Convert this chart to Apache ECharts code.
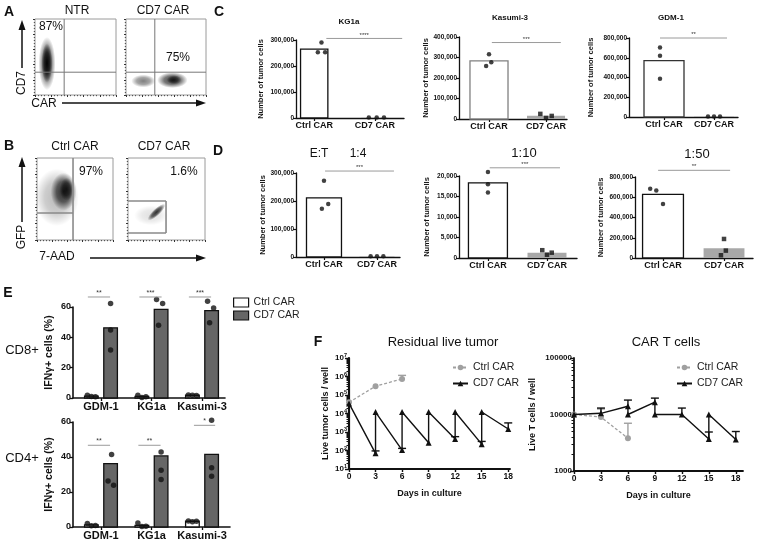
<!DOCTYPE html>
<html><head><meta charset="utf-8">
<script src="https://cdn.jsdelivr.net/npm/echarts@6/dist/echarts.min.js"></script>
<style>html,body{margin:0;padding:0;background:#fff}#c{width:757px;height:544px}</style>
</head><body><div id="c"></div>
<script>
// ================= DATA =================
// Panel A / B flow plots: event clusters [centre X, centre Y, spread X, spread Y, tilt deg, density] (log decades)
const ntrEvents   = [[0.74, 2.07, 0.52, 1.75, 0, 0.7], [0.74, 2.1, 0.33, 1.3, 0, 0.95]];
const a7Events    = [[1.08, 0.92, 0.75, 0.42, 0, 0.5], [2.9, 0.98, 0.95, 0.52, 0, 0.75], [3.0, 1.0, 0.45, 0.3, 0, 0.7]];
const bCtrlEvents = [[1.3, 2.6, 1.45, 1.75, 0, 0.28], [1.75, 2.95, 0.85, 1.15, 0, 0.8], [1.95, 3.1, 0.45, 0.7, 0, 0.7]];
const bCd7Events  = [[1.5, 1.5, 1.1, 0.6, 0, 0.12], [1.85, 1.7, 0.75, 0.22, 43, 0.8]];
const quadNtr  = [1.8, 1.5];
const quadA7   = [1.8, 1.5];
const gateBCtrl = [2.37, 1.65];
const gateBCd7  = [2.47, 0.43, 2.38];

// Panel C / D: tumor cells (bar = mean, dots = replicates)
const barCategories = ['Ctrl CAR', 'CD7 CAR'];
const kg1aMeans = [265000, 1500];
const kg1aCtrl  = [290000, 253000, 253000];
const kg1aCd7   = [1500, 1500, 1500];
const kasumiMeans = [284000, 16000];
const kasumiCtrl  = [316000, 259000, 277000];
const kasumiCd7   = [25000, 5000, 15000];
const gdmMeans = [571000, 4000];
const gdmCtrl  = [705000, 621000, 388000];
const gdmCd7   = [4000, 4000, 4000];
const et4Means = [211000, 2500];
const et4Ctrl  = [272000, 189000, 172000];
const et4Cd7   = [2500, 2500, 2500];
const et10Means = [18300, 1300];
const et10Ctrl  = [21000, 18000, 16000];
const et10Cd7   = [1900, 800, 1300];
const et50Means = [628000, 96000];
const et50Ctrl  = [685000, 666000, 533000];
const et50Cd7   = [188000, 73000, 27000];
const sigC = ['****', '***', '**'];
const sigD = ['***', '***', '**'];

// Panel E: IFN-gamma+ cells (%)
const ifnCategories = ['GDM-1', 'KG1a', 'Kasumi-3'];
const cd8CtrlMeans = [1.3, 1.1, 1.8];
const cd8Cd7Means  = [46.3, 58.4, 57.6];
const cd8CtrlPts = [[1.8, 1.0, 0.9], [1.8, 0.4, 0.9], [2.0, 1.8, 1.7]];
const cd8Cd7Pts  = [[62.3, 44.8, 31.7], [64.9, 62.3, 48.0], [63.8, 59.4, 49.6]];
const cd8Sig = ['**', '***', '***'];
const cd4CtrlMeans = [1.2, 0.9, 3.3];
const cd4Cd7Means  = [36.2, 40.6, 41.5];
const cd4CtrlPts = [[2.0, 0.7, 0.8], [2.3, 0.3, 0.5], [3.5, 3.0, 3.3]];
const cd4Cd7Pts  = [[41.5, 26.3, 23.8], [42.9, 32.4, 27.2], [61.0, 33.9, 29.0]];
const cd4Sig = ['**', '**', '*'];

// Panel F: [day, cells]
const tumorCtrl = [[0, 40000], [3, 300000], [6, 740000]];
const tumorCtrlErr = [[6, 740000, 1150000]];
const tumorCd7 = [[0, 35000], [3, 70], [3, 12000], [6, 105], [6, 12000], [9, 260], [9, 12000], [12, 420], [12, 12000], [15, 220], [15, 12000], [18, 1450]];
const tumorCd7Err = [[3, 70, 95], [6, 105, 130], [12, 420, 560], [15, 220, 310], [18, 1450, 3100]];
const tcellCtrl = [[0, 10000], [3, 9000], [6, 3800]];
const tcellCtrlErr = [[3, 9000, 12500], [6, 3800, 7000]];
const tcellCd7 = [[0, 10000], [3, 10500], [6, 14000], [6, 10000], [9, 16500], [9, 10000], [12, 10000], [15, 3700], [15, 10000], [18, 3600]];
const tcellCd7Err = [[3, 10500, 13000], [6, 14000, 18000], [9, 16500, 19500], [12, 10000, 13000], [15, 3700, 4900], [18, 3600, 5000]];
const dayTicks = [0, 3, 6, 9, 12, 15, 18];

// ================= BUILD =================
const FONT = '"Liberation Sans", Arial, Helvetica, sans-serif';
const chart = echarts.init(document.getElementById('c'), null, {renderer: 'canvas', width: 757, height: 544});
const grids = [], xAxes = [], yAxes = [], series = [], graphics = [];

function txt(x, y, text, size, bold, extra) {
  graphics.push(Object.assign({type: 'text', x: x, y: y, silent: true,
    style: {text: text, fontSize: size, fontWeight: bold ? 'bold' : 'normal', fontFamily: FONT, fill: '#111', align: 'center', verticalAlign: 'middle'}}, extra || {}));
}
function arrow(x1, y1, x2, y2) {
  graphics.push({type: 'line', shape: {x1: x1, y1: y1, x2: x2, y2: y2}, style: {stroke: '#111', lineWidth: 1.5}, silent: true});
  const dx = x2 - x1, dy = y2 - y1, L = Math.hypot(dx, dy), ux = dx / L, uy = dy / L;
  const h = 7, w = 3.5;
  graphics.push({type: 'polygon', shape: {points: [[x2 + ux * 3, y2 + uy * 3], [x2 - ux * h + uy * w, y2 - uy * h - ux * w], [x2 - ux * h - uy * w, y2 - uy * h + ux * w]]}, style: {fill: '#111'}, silent: true});
}
function segRender(color, width) {
  return function (params, api) {
    const a = api.coord([api.value(0), api.value(1)]), b = api.coord([api.value(2), api.value(3)]);
    return {type: 'line', shape: {x1: a[0], y1: a[1], x2: b[0], y2: b[1]}, style: {stroke: color, lineWidth: width}};
  };
}
function sigSeries(gi, rows, labels, fs) {
  series.push({type: 'custom', xAxisIndex: gi, yAxisIndex: gi, silent: true, clip: false, z: 5,
    data: rows,
    renderItem: function (params, api) {
      const a = api.coord([api.value(0), api.value(2)]), b = api.coord([api.value(1), api.value(2)]);
      return {type: 'group', children: [
        {type: 'line', shape: {x1: a[0], y1: a[1], x2: b[0], y2: b[1]}, style: {stroke: '#9a9a9a', lineWidth: 1}},
        {type: 'text', style: {text: labels[params.dataIndex], x: (a[0] + b[0]) / 2, y: a[1] - 0.5, align: 'center', verticalAlign: 'bottom', fontSize: fs, fontFamily: FONT, fill: '#333'}}
      ]};
    }});
}

// ---------- flow panels ----------
function flowPanel(g, events, segs, segColor, segW) {
  const gi = grids.length;
  grids.push({left: g[0], top: g[1], width: g[2], height: g[3], show: true, borderColor: '#9a9a9a', borderWidth: 1, backgroundColor: '#fff', containLabel: false});
  const ax = {gridIndex: gi, type: 'value', min: 0, max: 5, interval: 1,
    axisLine: {show: false}, axisLabel: {show: false}, splitLine: {show: false},
    axisTick: {show: true, length: 2, lineStyle: {color: '#333', width: 1}},
    minorTick: {show: true, splitNumber: 5, length: 1.2, lineStyle: {color: '#555'}}};
  xAxes.push(Object.assign({}, ax));
  yAxes.push(Object.assign({}, ax));
  series.push({type: 'custom', xAxisIndex: gi, yAxisIndex: gi, clip: true, silent: true, data: events,
    renderItem: function (params, api) {
      const c = api.coord([api.value(0), api.value(1)]);
      const s = api.size([api.value(2), api.value(3)]);
      const d = api.value(5);
      return {type: 'circle', x: c[0], y: c[1], scaleX: s[0], scaleY: s[1], rotation: api.value(4) * Math.PI / 180,
        shape: {cx: 0, cy: 0, r: 1},
        style: {fill: new echarts.graphic.RadialGradient(0.5, 0.5, 0.5, [
          {offset: 0, color: 'rgba(0,0,0,' + d + ')'},
          {offset: 0.55, color: 'rgba(0,0,0,' + (d * 0.7) + ')'},
          {offset: 1, color: 'rgba(0,0,0,0)'}])}};
    }});
  series.push({type: 'custom', xAxisIndex: gi, yAxisIndex: gi, clip: true, silent: true, z: 4, data: segs, renderItem: segRender(segColor, segW)});
}
flowPanel([35, 19, 81, 76], ntrEvents, [[quadNtr[0], 0, quadNtr[0], 5], [0, quadNtr[1], 5, quadNtr[1]]], '#777', 1);
flowPanel([126, 19, 80, 76], a7Events, [[quadA7[0], 0, quadA7[0], 5], [0, quadA7[1], 5, quadA7[1]]], '#777', 1);
flowPanel([37, 158, 76, 82], bCtrlEvents, [[gateBCtrl[0], 0, gateBCtrl[0], 5], [0, gateBCtrl[1], gateBCtrl[0], gateBCtrl[1]]], '#8a8a8a', 1.6);
flowPanel([128, 158, 77, 82], bCd7Events, [[0, gateBCd7[2], gateBCd7[0], gateBCd7[2]], [gateBCd7[0], gateBCd7[1], gateBCd7[0], gateBCd7[2]], [0, gateBCd7[1], gateBCd7[0], gateBCd7[1]]], '#8a8a8a', 1.6);

// ---------- C / D bar panels ----------
function fmtThousands(v) { return Math.round(v).toString().replace(/\B(?=(\d{3})+(?!\d))/g, ','); }
function barPanel(p) {
  const gi = grids.length;
  grids.push({left: p.g[0], top: p.g[1], width: p.g[2], height: p.g[3], containLabel: false});
  xAxes.push({gridIndex: gi, type: 'value', min: p.x[0], max: p.x[1],
    axisLine: {show: true, onZero: false, lineStyle: {color: '#111', width: 1.4}},
    axisTick: {show: true, customValues: [0, 1], length: 3, lineStyle: {color: '#111', width: 1.2}},
    axisLabel: {show: true, customValues: [0, 1], formatter: function (v) { return barCategories[Math.round(v)]; }, fontFamily: FONT, fontWeight: 'bold', fontSize: 9, color: '#111', margin: 3},
    splitLine: {show: false}});
  yAxes.push({gridIndex: gi, type: 'value', min: 0, max: p.yMax, interval: p.yInt,
    axisLine: {show: true, onZero: false, lineStyle: {color: '#111', width: 1.3}},
    axisTick: {show: true, length: 3, lineStyle: {color: '#111', width: 1.2}},
    axisLabel: {formatter: fmtThousands, fontFamily: FONT, fontWeight: 'bold', fontSize: 6.5, color: '#111', margin: 2},
    splitLine: {show: false},
    name: 'Number of tumor cells', nameLocation: 'middle', nameRotate: 90, nameGap: p.nameGap,
    nameTextStyle: {fontFamily: FONT, fontWeight: 'bold', fontSize: 7.5, color: '#111'}});
  const bw = p.bw, stroke = p.stroke;
  series.push({type: 'custom', xAxisIndex: gi, yAxisIndex: gi, silent: true, z: 2,
    data: p.means.map(function (v, i) { return [i, v]; }),
    renderItem: function (params, api) {
      const i = api.value(0), v = api.value(1);
      const a = api.coord([i - bw / 2, v]), b = api.coord([i + bw / 2, 0]);
      const st = i === 0 ? {fill: '#fff', stroke: stroke, lineWidth: 1.3} : {fill: '#a8a8a8', lineWidth: 0};
      return {type: 'rect', shape: {x: a[0], y: a[1], width: b[0] - a[0], height: b[1] - a[1]}, style: st};
    }});
  series.push({type: 'scatter', xAxisIndex: gi, yAxisIndex: gi, silent: true, clip: false, z: 3, symbol: 'circle', symbolSize: 4.5,
    itemStyle: {color: '#111'}, data: p.ctrl.map(function (v, k) { return [p.jit[0][k], v]; })});
  series.push({type: 'scatter', xAxisIndex: gi, yAxisIndex: gi, silent: true, clip: false, z: 3, symbol: p.cd7Sym, symbolSize: 4.5,
    itemStyle: {color: '#111'}, data: p.cd7.map(function (v, k) { return [1 + p.jit[1][k], v]; })});
  sigSeries(gi, [[p.sig[0], p.sig[1], p.sig[2]]], [p.sigLabel], 6);
}
barPanel({g: [296, 40, 108, 78], x: [-0.3, 1.48], yMax: 300000, yInt: 100000, nameGap: 31, bw: 0.45, stroke: '#111',
  means: kg1aMeans, ctrl: kg1aCtrl, cd7: kg1aCd7, jit: [[0.12, 0.06, 0.18], [-0.1, 0.03, 0.15]], cd7Sym: 'circle', sig: [0.2, 1.45, 306000], sigLabel: sigC[0]});
barPanel({g: [459, 37, 108, 82], x: [-0.526, 1.368], yMax: 400000, yInt: 100000, nameGap: 28, bw: 0.667, stroke: '#808080',
  means: kasumiMeans, ctrl: kasumiCtrl, cd7: kasumiCd7, jit: [[0.0, -0.05, 0.04], [-0.1, 0, 0.1]], cd7Sym: 'rect', sig: [0.05, 1.26, 373000], sigLabel: sigC[1]});
barPanel({g: [629, 38, 109, 79], x: [-0.7, 1.48], yMax: 800000, yInt: 200000, nameGap: 34, bw: 0.8, stroke: '#333',
  means: gdmMeans, ctrl: gdmCtrl, cd7: gdmCd7, jit: [[-0.08, -0.08, -0.08], [-0.12, 0, 0.12]], cd7Sym: 'circle', sig: [-0.08, 1.26, 800000], sigLabel: sigC[2]});
barPanel({g: [296, 173, 104, 84], x: [-0.528, 1.434], yMax: 300000, yInt: 100000, nameGap: 28, bw: 0.66, stroke: '#111',
  means: et4Means, ctrl: et4Ctrl, cd7: et4Cd7, jit: [[0.0, 0.08, -0.04], [-0.12, 0, 0.12]], cd7Sym: 'circle', sig: [0.02, 1.32, 307000], sigLabel: sigD[0]});
barPanel({g: [459, 176, 118, 82], x: [-0.49, 1.508], yMax: 20000, yInt: 5000, nameGap: 28, bw: 0.66, stroke: '#111',
  means: et10Means, ctrl: et10Ctrl, cd7: et10Cd7, jit: [[0, 0, 0], [-0.08, 0, 0.08]], cd7Sym: 'rect', sig: [0.03, 1.22, 22000], sigLabel: sigD[1]});
barPanel({g: [635, 177, 118, 81], x: [-0.459, 1.475], yMax: 800000, yInt: 200000, nameGap: 30, bw: 0.67, stroke: '#111',
  means: et50Means, ctrl: et50Ctrl, cd7: et50Cd7, jit: [[-0.21, -0.11, 0.0], [0, 0.03, -0.05]], cd7Sym: 'rect', sig: [-0.08, 1.1, 866000], sigLabel: sigD[2]});

// ---------- E panels ----------
function ifnPanel(p) {
  const gi = grids.length;
  grids.push({left: p.g[0], top: p.g[1], width: p.g[2], height: p.g[3], containLabel: false});
  xAxes.push({gridIndex: gi, type: 'value', min: p.x[0], max: p.x[1],
    axisLine: {show: true, onZero: false, lineStyle: {color: '#111', width: 1.6}},
    axisTick: {show: true, customValues: [0, 1, 2], length: 3, lineStyle: {color: '#111', width: 1.3}},
    axisLabel: {show: true, customValues: [0, 1, 2], formatter: function (v) { return ifnCategories[Math.round(v)]; }, fontFamily: FONT, fontWeight: 'bold', fontSize: 11, color: '#111', margin: 3},
    splitLine: {show: false}});
  yAxes.push({gridIndex: gi, type: 'value', min: 0, max: 60, interval: 20,
    axisLine: {show: true, onZero: false, lineStyle: {color: '#111', width: 1.6}},
    axisTick: {show: true, length: 3, lineStyle: {color: '#111', width: 1.3}},
    axisLabel: {fontFamily: FONT, fontWeight: 'bold', fontSize: 9, color: '#111', margin: 2},
    splitLine: {show: false},
    name: 'IFNγ+ cells (%)', nameLocation: 'middle', nameRotate: 90, nameGap: 18,
    nameTextStyle: {fontFamily: FONT, fontWeight: 'bold', fontSize: 10.5, color: '#111'}});
  const off = 0.19, bw = 0.27;
  function bars(name, means, sign, fill) {
    series.push({type: 'custom', name: name, xAxisIndex: gi, yAxisIndex: gi, silent: true, z: 2,
      itemStyle: {color: fill, borderColor: '#111', borderWidth: 1.2},
      data: means.map(function (v, i) { return [i + sign * off, v]; }),
      renderItem: function (params, api) {
        const x = api.value(0), v = api.value(1);
        const a = api.coord([x - bw / 2, v]), b = api.coord([x + bw / 2, 0]);
        return {type: 'rect', shape: {x: a[0], y: a[1], width: b[0] - a[0], height: b[1] - a[1]}, style: {fill: fill, stroke: '#111', lineWidth: 1.3}};
      }});
  }
  bars('E Ctrl CAR', p.ctrlMeans, -1, '#ffffff');
  bars('E CD7 CAR', p.cd7Means, 1, '#666666');
  const pts = [];
  p.ctrlPts.forEach(function (arr, i) { arr.forEach(function (v, k) { pts.push([i - off + p.jc[k], v]); }); });
  p.cd7Pts.forEach(function (arr, i) { arr.forEach(function (v, k) { pts.push([i + off + p.jt[i][k], v]); }); });
  series.push({type: 'scatter', xAxisIndex: gi, yAxisIndex: gi, silent: true, clip: false, z: 3, symbolSize: 5.5, itemStyle: {color: '#111'}, data: pts});
  sigSeries(gi, p.sig.map(function (r, i) { return [i + r[0], i + r[1], r[2]]; }), p.sigLabels, 7);
}
ifnPanel({g: [73, 307, 152, 91], x: [-0.554, 2.455], ctrlMeans: cd8CtrlMeans, cd7Means: cd8Cd7Means, ctrlPts: cd8CtrlPts, cd7Pts: cd8Cd7Pts,
  jc: [-0.08, 0, 0.08], jt: [[0, 0, 0], [-0.09, 0.03, -0.05], [-0.08, 0.04, -0.04]],
  sig: [[-0.26, 0.18, 66.6], [-0.24, 0.2, 66.6], [-0.26, 0.18, 66.6]], sigLabels: cd8Sig});
ifnPanel({g: [73, 422, 157, 105], x: [-0.554, 2.554], ctrlMeans: cd4CtrlMeans, cd7Means: cd4Cd7Means, ctrlPts: cd4CtrlPts, cd7Pts: cd4Cd7Pts,
  jc: [-0.08, 0, 0.08], jt: [[0.02, -0.05, 0.06], [0, 0, 0], [0, 0, 0]],
  sig: [[-0.26, 0.18, 46.7], [-0.26, 0.18, 46.7], [-0.16, 0.26, 58.1]], sigLabels: cd4Sig});

// ---------- F panels ----------
function minorLog(lo, hi) {
  const out = [];
  for (let e = lo; e < hi; e++) for (let m = 2; m <= 9; m++) out.push(m * Math.pow(10, e));
  return out;
}
function majorLog(lo, hi) { const out = []; for (let e = lo; e <= hi; e++) out.push(Math.pow(10, e)); return out; }
function timePanel(p) {
  const gi = grids.length;
  grids.push({left: p.g[0], top: p.g[1], width: p.g[2], height: p.g[3], containLabel: false});
  xAxes.push({gridIndex: gi, type: 'value', min: 0, max: p.xMax,
    axisLine: {show: true, onZero: false, lineStyle: {color: '#111', width: 1.8}},
    axisTick: {show: true, customValues: dayTicks, length: 3, lineStyle: {color: '#111', width: 1.4}},
    axisLabel: {customValues: dayTicks, fontFamily: FONT, fontWeight: 'bold', fontSize: 8.5, color: '#111', margin: 3},
    splitLine: {show: false},
    name: 'Days in culture', nameLocation: 'middle', nameGap: 20,
    nameTextStyle: {fontFamily: FONT, fontWeight: 'bold', fontSize: 9, color: '#111'}});
  const yi = yAxes.length;
  yAxes.push({gridIndex: gi, type: 'log', logBase: 10, min: p.yMin, max: p.yMax, position: 'left',
    axisLine: {show: true, onZero: false, lineStyle: {color: '#111', width: p.axW}},
    axisTick: {show: true, customValues: p.major, length: 4, lineStyle: {color: '#111', width: 1.4}},
    axisLabel: {customValues: p.major, formatter: p.fmt, fontFamily: FONT, fontWeight: 'bold', fontSize: 8, color: '#111', margin: 2,
      rich: {s: {fontSize: 5.5, fontWeight: 'bold', fontFamily: FONT, verticalAlign: 'top', padding: [0, 0, 5, 0], color: '#111'}}},
    splitLine: {show: false},
    name: p.yName, nameLocation: 'middle', nameRotate: 90, nameGap: p.nameGap,
    nameTextStyle: {fontFamily: FONT, fontWeight: 'bold', fontSize: 9, color: '#111'}});
  yAxes.push({gridIndex: gi, type: 'log', logBase: 10, min: p.yMin, max: p.yMax, position: 'left', offset: 0,
    axisLine: {show: false}, axisLabel: {show: false}, splitLine: {show: false},
    axisTick: {show: true, customValues: p.minor, length: 2.5, lineStyle: {color: '#111', width: 1}}});
  series.push({type: 'line', name: 'Ctrl CAR', xAxisIndex: gi, yAxisIndex: yi, data: p.ctrl, silent: true, clip: false, z: 3,
    symbol: 'circle', symbolSize: 6, color: '#a0a0a0', itemStyle: {color: '#a0a0a0'},
    lineStyle: {color: '#a0a0a0', width: 1.3, type: [3, 2]}});
  series.push({type: 'line', name: 'CD7 CAR', xAxisIndex: gi, yAxisIndex: yi, data: p.cd7, silent: true, clip: false, z: 4,
    symbol: 'triangle', symbolSize: 6, color: '#111', itemStyle: {color: '#111'},
    lineStyle: {color: '#111', width: 1.4}});
  function errs(rows, color) {
    series.push({type: 'custom', xAxisIndex: gi, yAxisIndex: yi, silent: true, clip: false, z: 2, data: rows,
      renderItem: function (params, api) {
        const a = api.coord([api.value(0), api.value(1)]), b = api.coord([api.value(0), api.value(2)]);
        return {type: 'group', children: [
          {type: 'line', shape: {x1: a[0], y1: a[1], x2: b[0], y2: b[1]}, style: {stroke: color, lineWidth: 1.4}},
          {type: 'line', shape: {x1: b[0] - 4, y1: b[1], x2: b[0] + 4, y2: b[1]}, style: {stroke: color, lineWidth: 1.4}}]};
      }});
  }
  errs(p.ctrlErr, '#a0a0a0');
  errs(p.cd7Err, '#111');
}
timePanel({g: [349, 358, 161, 111], xMax: 18.2, yMin: 10, yMax: 1e7, major: majorLog(1, 7), minor: minorLog(1, 7), axW: 2.2,
  fmt: function (v) { return '10{s|' + Math.round(Math.log10(v)) + '}'; }, yName: 'Live tumor cells / well', nameGap: 19,
  ctrl: tumorCtrl, cd7: tumorCd7, ctrlErr: tumorCtrlErr, cd7Err: tumorCd7Err});
timePanel({g: [574, 358, 169, 113], xMax: 18.8, yMin: 1000, yMax: 100000, major: majorLog(3, 5), minor: minorLog(3, 5), axW: 1.8,
  fmt: function (v) { return String(Math.round(v)); }, yName: 'Live T cells / well', nameGap: 37,
  ctrl: tcellCtrl, cd7: tcellCd7, ctrlErr: tcellCtrlErr, cd7Err: tcellCd7Err});

// ---------- texts ----------
txt(9, 12, 'A', 14, true); txt(9, 146, 'B', 14, true); txt(219, 12, 'C', 14, true); txt(218, 151, 'D', 14, true);
txt(8, 293, 'E', 14, true); txt(318, 342, 'F', 14, true);
txt(77, 11, 'NTR', 12, false); txt(163, 11, 'CD7 CAR', 12, false);
txt(51, 27, '87%', 12, false); txt(178, 58, '75%', 12, false);
txt(22, 83, 'CD7', 12, false, {rotation: Math.PI / 2}); txt(44, 104, 'CAR', 12, false);
arrow(22, 68, 22, 23); arrow(62, 103, 203, 103);
txt(75, 147, 'Ctrl CAR', 12, false); txt(164, 147, 'CD7 CAR', 12, false);
txt(91, 172, '97%', 12, false); txt(184, 172, '1.6%', 12, false);
txt(22, 237, 'GFP', 12, false, {rotation: Math.PI / 2}); txt(57, 257, '7-AAD', 12, false);
arrow(22, 222, 22, 160); arrow(90, 258, 203, 258);
txt(349, 22, 'KG1a', 8, true); txt(510, 18, 'Kasumi-3', 8, true); txt(671, 18, 'GDM-1', 8, true);
txt(319, 154, 'E:T', 12, false); txt(358, 154, '1:4', 12, false); txt(524, 153, '1:10', 13, false); txt(697, 154, '1:50', 13, false);
txt(22, 350, 'CD8+', 13, false); txt(22, 458, 'CD4+', 13, false);
txt(443, 342, 'Residual live tumor', 13, false); txt(666, 342, 'CAR T cells', 13, false);

const legendText = {fontFamily: FONT, fontSize: 10.5, color: '#222'};
function stripName(n) { return n.replace(/^E /, ''); }

chart.setOption({
  animation: false,
  backgroundColor: '#fff',
  grid: grids, xAxis: xAxes, yAxis: yAxes, series: series,
  legend: [
    {left: 452, top: 362, padding: 0, orient: 'vertical', itemWidth: 15, itemHeight: 7, itemGap: 5, selectedMode: false, textStyle: legendText, data: ['Ctrl CAR', 'CD7 CAR']},
    {left: 676, top: 362, padding: 0, orient: 'vertical', itemWidth: 15, itemHeight: 7, itemGap: 5, selectedMode: false, textStyle: legendText, data: ['Ctrl CAR', 'CD7 CAR']},
    {left: 233, top: 297, padding: 0, orient: 'vertical', itemWidth: 15, itemHeight: 9, itemGap: 2, selectedMode: false, textStyle: legendText, formatter: stripName,
      data: [{name: 'E Ctrl CAR', icon: 'rect', itemStyle: {color: '#fff', borderColor: '#111', borderWidth: 1.2}},
             {name: 'E CD7 CAR', icon: 'rect', itemStyle: {color: '#666', borderColor: '#111', borderWidth: 1.2}}]}
  ],
  graphic: graphics
});
</script></body></html>
